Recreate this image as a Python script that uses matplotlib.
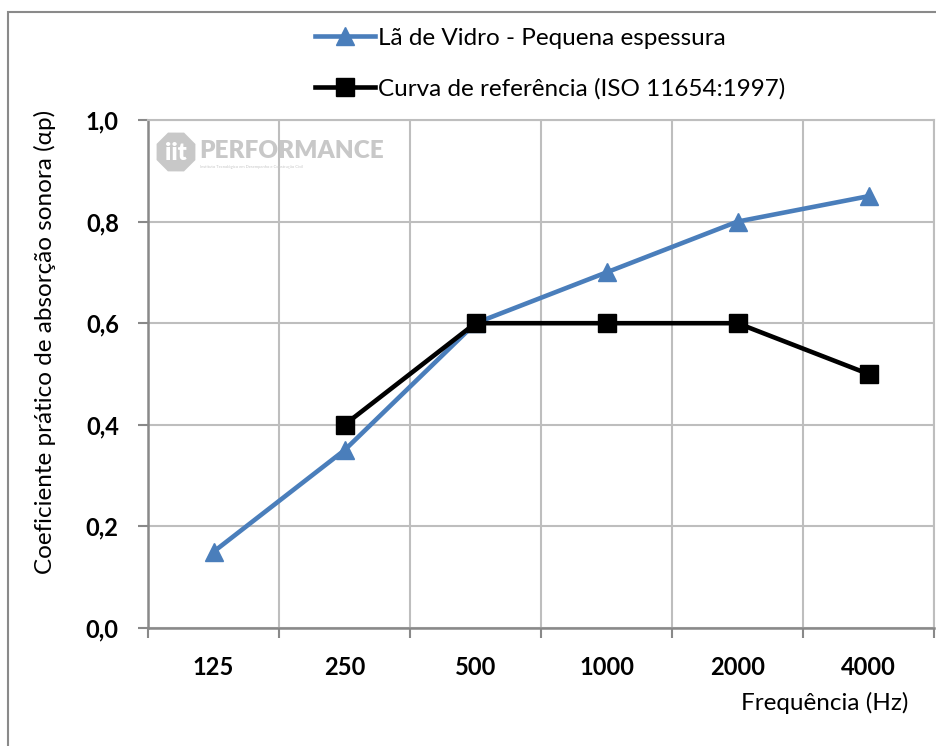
import matplotlib
matplotlib.use("Agg")
import matplotlib.pyplot as plt
from matplotlib.patches import RegularPolygon, Rectangle

plt.rcParams['font.family'] = ['Lato', 'DejaVu Sans']

categories = ["125", "250", "500", "1000", "2000", "4000"]
la_vidro = [0.15, 0.35, 0.60, 0.70, 0.80, 0.85]
referencia = [None, 0.40, 0.60, 0.60, 0.60, 0.50]
yticks = [0.0, 0.2, 0.4, 0.6, 0.8, 1.0]
ytick_labels = ["0,0", "0,2", "0,4", "0,6", "0,8", "1,0"]

W, H = 936, 746
fig = plt.figure(figsize=(W/100, H/100), dpi=100)
ax = fig.add_axes([148/W, 1-628/H, (934-148)/W, (628-120)/H])

blue = "#4A7EBB"
grid = "#BEBEBE"
axc = "#898989"

x = list(range(len(categories)))
ax.plot(x, la_vidro, color=blue, lw=3.3, marker='^', ms=13.5, mfc=blue, mec=blue,
        label="Lã de Vidro - Pequena espessura", zorder=3)
xr = [xi for xi, v in zip(x, referencia) if v is not None]
yr = [v for v in referencia if v is not None]
ax.plot(xr, yr, color='black', lw=3.3, marker='s', ms=13.5, mfc='black', mec='black',
        label="Curva de referência (ISO 11654:1997)", zorder=4)

ax.set_xlim(-0.5, len(categories)-0.5)
ax.set_ylim(0, 1.0)
ax.set_xticks(x)
ax.set_xticklabels(categories, fontsize=17, fontweight='bold')
ax.set_xticks([i-0.5 for i in range(len(categories)+1)], minor=True)
ax.set_yticks(yticks)
ax.set_yticklabels(ytick_labels, fontsize=17, fontweight='bold')
ax.tick_params(axis='x', which='major', length=0, pad=20)
ax.tick_params(axis='x', which='minor', length=7, width=1.5, color=axc, direction='out')
ax.tick_params(axis='y', length=7, width=1.5, color=axc, direction='out', pad=14)

ax.grid(True, axis='y', which='major', color=grid, lw=1.5, zorder=0)
ax.grid(True, axis='x', which='minor', color=grid, lw=1.5, zorder=0)
ax.grid(False, axis='x', which='major')
for s in ['top', 'right']:
    ax.spines[s].set_color(grid)
    ax.spines[s].set_linewidth(1.5)
for s in ['left', 'bottom']:
    ax.spines[s].set_color(axc)
    ax.spines[s].set_linewidth(1.8)

fig.text(45/W, 1-342/H, "Coeficiente prático de absorção sonora (αp)", rotation=90,
         ha='center', va='center', fontsize=17.5)
fig.text(908/W, 1-703/H, "Frequência (Hz)", ha='right', va='center', fontsize=17.5)

leg = fig.legend(loc='upper left', bbox_to_anchor=(305/W, 1-18/H), frameon=False,
                 fontsize=17.5, handlelength=2.5, labelspacing=1.2, handletextpad=0.1,
                 borderaxespad=0)

# watermark
wm = "#C8C8C8"
cx, cy = 176, 152
fig.patches.append(RegularPolygon((cx/100, (H-cy)/100), numVertices=8, radius=0.21,
                                  orientation=0.39, transform=fig.dpi_scale_trans,
                                  facecolor=wm, edgecolor='none', zorder=1))
fig.text(cx/W, 1-(cy+1)/H, "iit", ha='center', va='center', fontsize=17,
         fontweight='heavy', color='white', zorder=2)
fig.text(199/W, 1-151/H, "PERFORMANCE", ha='left', va='center', fontsize=17.5,
         fontweight='heavy', color=wm, zorder=2)
fig.text(200/W, 1-167/H, "Instituto Tecnológico em Desempenho e Construção Civil",
         ha='left', va='center', fontsize=3, color=wm, zorder=2)

# figure border
fig.patches.append(Rectangle((8/W, -0.01), 2, 1-12/H+0.01, transform=fig.transFigure,
                             fill=False, edgecolor='#8A8A8A', lw=1.5))

fig.savefig("out.png", dpi=100)
